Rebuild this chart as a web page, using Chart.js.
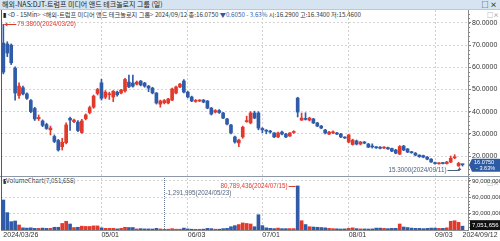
<!DOCTYPE html>
<html>
<head>
<meta charset="utf-8">
<script src="https://cdn.jsdelivr.net/npm/chart.js@4/dist/chart.umd.min.js"></script>
<style>
body{margin:0;width:500px;height:241px;overflow:hidden;background:#fff;position:relative;font-family:'Noto Sans CJK KR','Liberation Sans',sans-serif;}
canvas{position:absolute;left:0;top:0;}
.titlebar{position:absolute;left:0;top:0;width:500px;height:10px;background:#d6e4f1;border-bottom:1px solid #b9c9d9;box-sizing:border-box;font-size:7px;line-height:9px;color:#222;white-space:nowrap;padding-left:2px;}
.titlebar .ic{position:absolute;right:3px;top:0;font-weight:bold;font-size:7px;color:#333;}
.head{position:absolute;left:1px;top:10px;width:466px;height:9px;background:#fff;font-size:6.2px;line-height:9px;color:#333;white-space:nowrap;padding-left:2px;}
.head b{color:#222;}
.head .dn{color:#2f5aa8;}
.vhead{position:absolute;left:3px;top:177px;font-size:6.2px;line-height:8px;color:#333;white-space:nowrap;}
.pic{position:absolute;font-size:6px;color:#777;line-height:6px;}
</style>
</head>
<body>
<div class="titlebar">해외-NAS:DJT-트럼프 미디어 앤드 테크놀로지 그룹 (일)<span class="ic">□ ×</span></div>
<div class="head"><b>▮</b> &lt;D - 15Min&gt; &lt;해외-트럼프 미디어 앤드 테크놀로지 그룹&gt; 2024/09/12 종:16.0750 <span class="dn">▼0.6050 - 3.63%</span> 시:16.2900 고:16.3400 저:15.4600</div>
<div class="vhead"><b>▮</b>VolumeChart(7,051,656)</div>
<div class="pic" style="left:487px;top:12px;">□×</div>
<div class="pic" style="left:487px;top:180px;">□×</div>
<canvas id="c" width="500" height="241"></canvas>
<script>
// 일봉 날짜 (2024)
const dates = [
  '03/26','03/27','03/28',
  '04/01','04/02','04/03','04/04','04/05','04/08','04/09','04/10','04/11','04/12','04/15','04/16','04/17','04/18','04/19','04/22','04/23','04/24','04/25','04/26','04/29','04/30',
  '05/01','05/02','05/03','05/06','05/07','05/08','05/09','05/10','05/13','05/14','05/15','05/16','05/17','05/20','05/21','05/22','05/23','05/24','05/28','05/29','05/30','05/31',
  '06/03','06/04','06/05','06/06','06/07','06/10','06/11','06/12','06/13','06/14','06/17','06/18','06/20','06/21','06/24','06/25','06/26','06/27','06/28',
  '07/01','07/02','07/03','07/05','07/08','07/09','07/10','07/11','07/12','07/15','07/16','07/17','07/18','07/19','07/22','07/23','07/24','07/25','07/26','07/29','07/30','07/31',
  '08/01','08/02','08/05','08/06','08/07','08/08','08/09','08/12','08/13','08/14','08/15','08/16','08/19','08/20','08/21','08/22','08/23','08/26','08/27','08/28','08/29','08/30',
  '09/03','09/04','09/05','09/06','09/09','09/10','09/11','09/12'
];
const opens = [
  70.90,70.50,70.00,
  59.60,47.30,50.80,48.00,45.00,41.40,36.80,35.80,34.20,31.80,28.80,27.00,24.20,26.00,37.00,35.50,35.30,30.60,36.80,39.60,42.00,48.20,
  53.00,46.50,47.60,46.60,48.80,48.40,49.30,53.30,52.90,52.40,53.80,52.90,51.50,50.60,48.40,43.40,44.00,43.90,45.20,48.40,51.10,53.80,
  48.80,46.60,44.60,44.80,45.20,44.80,41.60,39.80,40.50,39.40,36.70,34.00,28.60,25.90,28.60,35.50,34.90,39.40,39.40,
  32.40,31.60,31.20,30.40,28.60,30.80,29.90,29.00,30.60,46.10,36.20,36.90,36.20,36.70,34.90,33.50,31.70,29.90,30.40,30.40,29.90,28.40,
  26.30,25.20,26.80,25.40,26.30,25.40,24.50,24.00,24.00,23.60,23.80,23.40,22.70,20.90,24.50,23.20,21.90,21.30,20.40,20.20,19.50,18.60,
  17.00,16.50,16.90,16.60,17.30,19.20,15.60,16.29
];
const highs = [
  79.38,71.50,70.50,
  60.20,53.00,51.50,48.50,45.50,42.00,38.50,36.30,34.80,33.50,29.50,27.50,28.00,35.00,37.50,36.70,36.00,36.50,39.00,42.50,47.50,50.50,
  54.60,49.50,48.80,49.50,49.30,50.00,55.00,56.50,56.50,53.80,54.00,53.20,51.80,51.00,48.60,45.20,45.50,46.00,50.60,51.50,52.80,54.50,
  49.20,47.00,45.50,45.40,45.50,45.00,41.90,40.90,40.90,39.70,37.00,34.30,29.00,27.60,33.50,38.00,40.00,40.20,40.00,
  32.80,31.90,31.60,30.60,30.80,31.20,30.20,30.60,31.40,46.50,39.40,39.50,37.50,37.00,35.20,33.80,32.00,31.10,31.40,30.70,30.20,28.70,
  29.80,27.60,27.20,26.60,26.60,25.70,25.50,24.30,24.30,24.30,24.00,23.60,23.00,24.70,24.80,23.40,22.10,21.60,20.60,20.40,19.80,18.90,
  17.30,17.10,17.20,17.60,20.00,20.60,17.20,16.34
];
const lows = [
  57.00,64.80,61.20,
  45.20,46.00,47.50,45.50,39.50,36.00,36.00,33.20,32.00,29.50,26.00,22.20,22.70,25.50,31.50,35.00,31.00,30.20,36.30,39.00,41.50,47.50,
  45.20,45.80,45.50,44.50,47.00,48.00,48.80,50.80,51.00,52.00,51.60,51.00,49.00,48.00,43.40,42.00,43.50,43.50,45.00,48.00,50.80,48.40,
  46.20,44.50,44.20,44.50,44.00,41.30,38.50,39.40,39.20,36.80,34.00,30.00,25.80,24.20,28.00,35.20,34.50,36.80,31.80,
  30.50,30.00,30.30,28.30,28.30,29.50,28.30,28.80,30.20,37.60,36.00,36.20,35.80,34.60,33.20,32.30,30.00,29.60,30.10,29.60,28.30,27.90,
  26.00,24.90,25.00,25.00,25.50,23.80,23.60,23.40,23.20,23.30,23.00,22.00,21.00,20.60,22.40,21.50,21.20,20.10,19.40,19.20,18.30,17.10,
  16.30,16.30,16.40,16.40,17.00,18.80,15.30,15.46
];
const closes = [
  57.80,66.40,62.00,
  48.40,51.50,48.00,46.00,40.00,36.70,37.40,33.80,32.40,32.60,26.60,22.70,26.20,34.00,36.20,36.20,31.50,35.80,38.50,41.80,47.00,50.00,
  46.00,48.80,48.00,49.20,47.60,49.70,54.50,51.20,51.50,53.30,52.00,51.50,50.60,48.40,43.90,44.80,45.00,45.70,50.20,51.10,52.40,48.80,
  46.60,44.80,45.00,45.00,44.30,41.60,38.90,40.50,39.60,37.10,34.40,30.40,26.30,27.20,33.00,35.80,39.40,37.10,32.60,
  31.80,31.20,30.80,28.60,30.40,29.90,28.60,30.40,31.00,39.80,37.10,36.50,37.10,34.90,33.50,32.60,30.40,30.80,30.90,29.90,28.60,28.10,
  29.50,27.20,25.40,26.30,25.80,24.00,24.10,23.70,23.50,24.00,23.20,22.20,21.30,24.30,22.70,21.80,21.50,20.40,19.70,19.50,18.60,17.30,
  16.60,16.80,16.60,17.30,19.00,19.60,16.68,16.075
];
const volumes = [
  55000000,31800000,15300000,
  16500000,9200000,4000000,3500000,4000000,3000000,3000000,3500000,3000000,3000000,5000000,5000000,12000000,16000000,11000000,4500000,5000000,7000000,6500000,6500000,7500000,7500000,
  4000000,3000000,3000000,3000000,2000000,3000000,5000000,4500000,4500000,2000000,2500000,2000000,2000000,1800000,3000000,2000000,1291995,1500000,2500000,1500000,1500000,3500000,
  2000000,1500000,1300000,1400000,1600000,3000000,2500000,1500000,1500000,2500000,3000000,6000000,8000000,10000000,13000000,12000000,11000000,6000000,28000000,
  8000000,4000000,3000000,2500000,3500000,2500000,2500000,2600000,2500000,80789436,17000000,10000000,6000000,5500000,5000000,4500000,4000000,3000000,2500000,2200000,1800000,2000000,
  3000000,4000000,2500000,2000000,2000000,1800000,2000000,3500000,3500000,3000000,2500000,3000000,3000000,11000000,5500000,4500000,3500000,3000000,3000000,2500000,3000000,3500000,
  3500000,3000000,3000000,4000000,16000000,17000000,14000000,7051656
];
const tickDates = ['03/26', '05/01', '06/03', '07/01', '08/01', '09/03', '09/12'];
const tickText = ['2024/03/26', '05/01', '06/03', '07/01', '08/01', '09/03', '2024/09/12'];
const priceTicks = [20, 30, 40, 50, 60, 70, 80];
const volTicks = [30000000, 60000000, 90000000];

const RED = '#e2392d';
const BLUE = '#2f5ba9';
const barColors = closes.map((c, i) => c >= opens[i] ? RED : BLUE);

function hLine(ctx, x1, y1, x2, y2) {
    ctx.beginPath();
    ctx.moveTo(x1, y1);
    ctx.lineTo(x2, y2);
    ctx.stroke();
}

const overlay = {
    id: 'overlay',
    afterDraw(chart) {
        const { ctx, chartArea: a } = chart;
        const x = chart.scales.x, y = chart.scales.y, yv = chart.scales.yv;
        ctx.save();
        ctx.lineWidth = 1;
        // panel separator + left border
        ctx.strokeStyle = '#8d99a8';
        hLine(ctx, 0, Math.round(y.bottom) + 0.5, 500, Math.round(y.bottom) + 0.5);
        ctx.strokeStyle = '#4a5a78';
        hLine(ctx, a.left + 0.5, a.top, a.left + 0.5, a.bottom);
        // minor ticks
        ctx.strokeStyle = '#888';
        for (let v = 12; v <= 84; v += 2) {
            const py = Math.round(y.getPixelForValue(v)) + 0.5;
            hLine(ctx, a.right, py, a.right + 2, py);
        }
        for (let v = 6000000; v < 99000000; v += 6000000) {
            const py = Math.round(yv.getPixelForValue(v)) + 0.5;
            hLine(ctx, a.right, py, a.right + 2, py);
        }

        ctx.font = "6.3px 'Liberation Sans', sans-serif";
        ctx.textBaseline = 'middle';

        // 최고가
        const hi = highs.indexOf(Math.max(...highs));
        const hx = x.getPixelForValue(hi), hy = Math.round(y.getPixelForValue(highs[hi])) + 0.5;
        ctx.strokeStyle = RED; ctx.fillStyle = RED;
        hLine(ctx, hx + 1, hy, hx + 13, hy);
        ctx.beginPath(); ctx.moveTo(hx + 1, hy); ctx.lineTo(hx + 4, hy - 2); ctx.lineTo(hx + 4, hy + 2); ctx.fill();
        ctx.textAlign = 'left';
        ctx.fillText(highs[hi].toFixed(4) + '(2024/' + dates[hi] + ')', hx + 14, hy);

        // 최저가
        const lo = lows.indexOf(Math.min(...lows));
        const lx = Math.round(x.getPixelForValue(lo)) + 0.5, ly = y.getPixelForValue(lows[lo]);
        const ty = Math.round(ly + 4) + 0.5;
        ctx.strokeStyle = '#4b5d7c'; ctx.fillStyle = '#4b5d7c';
        hLine(ctx, lx - 12, ty, lx, ty);
        hLine(ctx, lx, ty, lx, ly + 1);
        ctx.beginPath(); ctx.moveTo(lx, ly + 1); ctx.lineTo(lx - 2, ly + 3.5); ctx.lineTo(lx + 2, ly + 3.5); ctx.fill();
        ctx.textAlign = 'right';
        ctx.fillText(lows[lo].toFixed(4) + '(2024/' + dates[lo] + ')', lx - 13, ty);

        // 거래량 최소
        const vmin = volumes.indexOf(Math.min(...volumes));
        const vx = Math.round(x.getPixelForValue(vmin)) + 0.5;
        ctx.strokeStyle = '#6a7890';
        ctx.setLineDash([1, 1]);
        hLine(ctx, vx, yv.top + 2, vx, yv.bottom);
        ctx.setLineDash([]);
        ctx.fillStyle = '#56657f';
        ctx.textAlign = 'left';
        ctx.fillText('-' + volumes[vmin].toLocaleString('en-US') + '(2024/' + dates[vmin] + ')', vx + 1, yv.top + 17);

        // 거래량 최대
        const vmax = volumes.indexOf(Math.max(...volumes));
        const mx = x.getPixelForValue(vmax), my = Math.round(yv.getPixelForValue(volumes[vmax])) + 0.5;
        ctx.strokeStyle = RED; ctx.fillStyle = RED;
        hLine(ctx, mx - 9, my, mx - 2, my);
        ctx.textAlign = 'right';
        ctx.fillText(volumes[vmax].toLocaleString('en-US') + '(2024/' + dates[vmax] + ')', mx - 10, my);

        // 현재가 박스
        const last = closes.length - 1;
        const cy = y.getPixelForValue(closes[last]);
        ctx.fillStyle = '#2c5aa3';
        ctx.beginPath();
        ctx.moveTo(a.right + 1, cy);
        ctx.lineTo(a.right + 4, cy - 6);
        ctx.lineTo(500, cy - 6);
        ctx.lineTo(500, cy + 7);
        ctx.lineTo(a.right + 4, cy + 7);
        ctx.closePath();
        ctx.fill();
        ctx.fillStyle = '#fff';
        ctx.font = "5.6px 'Liberation Sans', sans-serif";
        ctx.textAlign = 'left';
        ctx.fillText(closes[last].toFixed(4), a.right + 6, cy - 2.5);
        ctx.fillText('- 3.63%', a.right + 8, cy + 3.5);

        // 현재 거래량 박스
        const vy = yv.getPixelForValue(volumes[last]) - 1;
        ctx.fillStyle = '#111';
        ctx.fillRect(a.right + 2, vy - 5, 500 - a.right - 2, 10);
        ctx.fillStyle = '#fff';
        ctx.font = "6px 'Liberation Sans', sans-serif";
        ctx.fillText(volumes[last].toLocaleString('en-US'), a.right + 4, vy);
        ctx.restore();
    }
};

const gridDash = { display: true, color: '#8c8c8c', dash: [2, 2] };

new Chart(document.getElementById('c'), {
    type: 'bar',
    data: {
        datasets: [{
            label: '몸통',
            data: dates.map((d, i) => ({ x: i, y: [opens[i], closes[i]] })),
            backgroundColor: barColors,
            barThickness: 3,
            minBarLength: 1,
            grouped: false,
            yAxisID: 'y',
            order: 0
        }, {
            label: '꼬리',
            data: dates.map((d, i) => ({ x: i, y: [lows[i], highs[i]] })),
            backgroundColor: barColors,
            barThickness: 1,
            grouped: false,
            yAxisID: 'y',
            order: 1
        }, {
            label: '거래량',
            data: dates.map((d, i) => ({ x: i, y: volumes[i] })),
            backgroundColor: barColors,
            barThickness: 3,
            grouped: false,
            yAxisID: 'yv',
            order: 0
        }]
    },
    options: {
        responsive: false,
        animation: false,
        devicePixelRatio: 1,
        layout: { padding: { top: 10, left: 1, right: 0, bottom: 0 } },
        plugins: { legend: { display: false }, tooltip: { enabled: false } },
        scales: {
            x: {
                type: 'linear',
                offset: false,
                min: -0.6,
                max: 118.4,
                afterBuildTicks: s => { s.ticks = tickDates.map(d => ({ value: dates.indexOf(d) })); },
                afterFit: s => { s.height = 11; s.paddingLeft = 0; s.paddingRight = 0; },
                ticks: {
                    autoSkip: false,
                    maxRotation: 0,
                    minRotation: 0,
                    align: 'start',
                    padding: 1,
                    color: '#333',
                    font: { size: 7, family: "'Liberation Sans', sans-serif" },
                    callback: v => tickText[tickDates.indexOf(dates[v])]
                },
                grid: {
                    offset: false,
                    drawTicks: false,
                    color: c => (c.index === 0 || c.index === tickDates.length - 1) ? 'rgba(0,0,0,0)' : '#cfcfcf'
                },
                border: { display: true, color: '#8c8c8c', dash: [2, 2] }
            },
            y: {
                position: 'right',
                stack: 'panel',
                stackWeight: 166,
                min: 11.0,
                max: 85.8,
                afterBuildTicks: s => { s.ticks = priceTicks.map(v => ({ value: v })); },
                afterFit: s => { s.width = 32; s.paddingTop = 0; s.paddingBottom = 0; },
                ticks: {
                    padding: 1,
                    color: '#333',
                    font: { size: 7, family: "'Liberation Sans', sans-serif" },
                    callback: v => v.toFixed(4)
                },
                grid: { color: '#d4d4d4', tickLength: 3, tickColor: '#777', tickBorderDash: [] },
                border: gridDash
            },
            yv: {
                position: 'right',
                stack: 'panel',
                stackWeight: 54,
                min: 0,
                max: 99000000,
                afterBuildTicks: s => { s.ticks = volTicks.map(v => ({ value: v })); },
                afterFit: s => { s.width = 32; s.paddingTop = 0; s.paddingBottom = 0; },
                ticks: {
                    padding: 1,
                    color: '#333',
                    font: { size: 6, family: "'Liberation Sans', sans-serif" },
                    callback: v => v.toLocaleString('en-US')
                },
                grid: { color: '#d4d4d4', tickLength: 3, tickColor: '#777', tickBorderDash: [] },
                border: gridDash
            }
        }
    },
    plugins: [overlay]
});
</script>
</body>
</html>
